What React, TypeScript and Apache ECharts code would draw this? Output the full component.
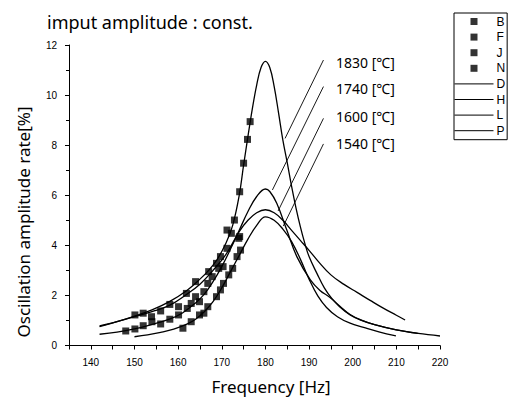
import React, { useEffect, useRef } from 'react';
import * as echarts from 'echarts';

// Measured points (frequency [Hz], oscillation amplitude rate [%])
const pointsB: [number, number][] = [
  [150.1, 1.22], [152.0, 1.29], [156.0, 1.38], [158.1, 1.64], [161.9, 2.08], [164.0, 2.55],
  [167.0, 2.95], [168.8, 3.28], [169.7, 3.55], [171.2, 3.88], [172.9, 5.01], [174.1, 6.14],
  [175.0, 7.28], [175.9, 8.23], [176.5, 8.94],
];
const pointsF: [number, number][] = [
  [148.0, 0.58], [150.1, 0.66], [152.0, 0.79], [154.0, 0.95], [156.0, 0.86], [158.1, 1.05],
  [160.1, 1.22], [162.1, 1.48], [164.9, 1.75], [167.8, 2.75], [170.3, 3.15], [172.2, 4.48],
];
const pointsJ: [number, number][] = [
  [153.9, 1.15], [160.1, 1.55], [163.0, 1.68], [164.0, 1.95], [165.9, 2.15], [166.8, 2.48],
  [169.3, 3.08], [171.2, 4.61], [173.9, 4.28], [174.1, 4.35],
];
const pointsN: [number, number][] = [
  [161.1, 0.69], [163.0, 0.95], [164.9, 1.22], [165.9, 1.29], [166.8, 1.55], [168.8, 1.95],
  [169.7, 2.22], [170.4, 2.48], [171.6, 2.82], [172.5, 3.08], [173.5, 3.55], [174.3, 3.81],
];

// Fitted curves
const curveD: [number, number][] = [
  [142, 0.78], [146, 0.95], [150, 1.17], [154, 1.42], [158, 1.75], [162, 2.2], [165, 2.65],
  [167, 3.0], [169, 3.45], [171, 4.1], [172.5, 4.8], [174, 6.0], [175, 7.2], [176, 8.35],
  [177, 9.45], [178, 10.4], [179, 11.1], [180, 11.35], [181, 11.1], [182, 10.35], [183, 9.3],
  [184, 8.2], [185, 7.3], [186, 6.35], [187, 5.5], [188, 4.75], [189, 4.1], [190, 3.55],
  [191.8, 2.88], [193.5, 2.3], [195.2, 1.88], [197, 1.55], [199.4, 1.22], [202, 1.0],
  [205, 0.83], [210, 0.62], [215, 0.48], [220, 0.38],
];
const curveH: [number, number][] = [
  [142, 0.45], [146, 0.53], [150, 0.66], [154, 0.84], [158, 1.05], [161, 1.3], [164, 1.7],
  [166, 2.05], [168, 2.55], [170, 3.15], [172, 3.85], [174, 4.6], [176, 5.35], [178, 5.95],
  [180, 6.25], [181, 6.15], [182.6, 5.68], [184.9, 4.61], [187.2, 3.55], [190.3, 2.62],
  [192.5, 2.2], [194.8, 1.92], [197, 1.58], [199.4, 1.24], [202, 1.01], [205, 0.83],
  [210, 0.62], [215, 0.48],
];
const curveL: [number, number][] = [
  [142, 0.75], [146, 0.95], [150, 1.15], [154, 1.35], [158, 1.6], [162, 2.05], [165, 2.45],
  [168, 3.0], [171, 3.65], [174, 4.55], [176, 5.0], [178, 5.3], [180, 5.42], [182, 5.3],
  [184, 5.0], [186, 4.6], [188, 4.2], [190, 3.8], [192, 3.38], [195, 2.82], [198, 2.44],
  [201, 2.12], [204, 1.8], [207, 1.49], [210, 1.21], [212, 1.02],
];
const curveP: [number, number][] = [
  [150, 0.35], [153, 0.42], [156, 0.52], [159, 0.65], [162, 0.85], [164, 1.05], [166, 1.35],
  [168, 1.75], [170, 2.3], [172, 2.95], [174, 3.6], [176, 4.25], [178, 4.8], [180, 5.14],
  [182, 5.0], [184, 4.65], [186, 4.15], [188, 3.45], [190, 2.65], [192, 1.98], [194, 1.52],
  [196.5, 1.15], [199.4, 0.89], [202.5, 0.72], [206, 0.54], [209.9, 0.38],
];

// Temperature annotations and their leader lines (data coordinates)
const tempLabels = ['1830 [℃]', '1740 [℃]', '1600 [℃]', '1540 [℃]'];
const leaderLines: [[number, number], [number, number]][] = [
  [[193.3, 11.4], [184.5, 8.27]],
  [[193.3, 10.34], [181.6, 6.21]],
  [[193.3, 9.07], [182.9, 5.37]],
  [[193.3, 8.05], [184.1, 4.77]],
];

const legendPointNames = ['B', 'F', 'J', 'N'];
const legendCurveNames = ['D', 'H', 'L', 'P'];

const titleText = 'imput amplitude : const.';
const xTitle = 'Frequency [Hz]';
const yTitle = 'Oscillation amplitude rate[%]';

const txt = (text: string, x: number, y: number, font: string, align = 'left', extra: any = {}) => ({
  type: 'text',
  x,
  y,
  ...extra,
  style: { text, fill: '#000', font, align, verticalAlign: 'middle', textAlign: align, textVerticalAlign: 'middle' },
});

const squareIcon = 'path://M0,0L7,0L7,7L0,7Z';

export default function App() {
  const ref = useRef<HTMLDivElement>(null);
  useEffect(() => {
    if (!ref.current) return;
    const chart = echarts.init(ref.current, null, { renderer: 'svg' });
    const scatterSets = [pointsB, pointsF, pointsJ, pointsN];
    const curveSets = [curveD, curveH, curveL, curveP];
    const series: any[] = [];
    scatterSets.forEach((p, i) => {
      series.push({
        name: legendPointNames[i],
        type: 'scatter',
        data: p,
        symbol: 'rect',
        symbolSize: 7,
        itemStyle: { color: '#000' },
        z: 3,
      });
    });
    curveSets.forEach((c, i) => {
      series.push({
        name: legendCurveNames[i],
        type: 'line',
        data: c,
        smooth: 0.4,
        symbol: 'none',
        showSymbol: false,
        lineStyle: { color: '#000', width: 1.3 },
        itemStyle: { color: '#000' },
        z: 2,
        markLine: i === 0 ? {
          silent: true,
          symbol: ['none', 'none'],
          label: { show: false },
          lineStyle: { color: '#000', width: 0.9, type: 'solid' },
          emphasis: { disabled: true },
          data: leaderLines.map((l) => [{ coord: l[0] }, { coord: l[1] }]),
        } : undefined,
      });
    });

    const tempY = [62.7, 88.3, 116.7, 143.3];
    const tempFont = '14px "Noto Sans", "Noto Sans CJK JP", sans-serif';
    const tempTexts = tempLabels.map((t, i) => txt(t, 336, tempY[i], tempFont, 'left'));

    chart.setOption({
      animation: false,
      backgroundColor: '#fff',
      grid: { left: 69, right: 69, top: 45, bottom: 51.5, containLabel: false },
      legend: {
        show: true,
        orient: 'vertical',
        left: 454,
        top: 13,
        selectedMode: false,
        padding: [2.5, 2, 3, 0],
        itemGap: 3.6,
        itemWidth: 39,
        itemHeight: 7,
        symbolKeepAspect: true,
        borderColor: '#000',
        borderWidth: 1,
        backgroundColor: '#fff',
        lineStyle: { width: 1, color: '#000' },
        textStyle: { color: '#000', fontSize: 12, fontFamily: '"Liberation Sans", Arial, sans-serif', padding: [0, 0, 0, -2] },
        data: [
          ...legendPointNames.map((n) => ({ name: n, icon: squareIcon })),
          ...legendCurveNames.map((n) => ({ name: n, itemStyle: { opacity: 0 } })),
        ],
      },
      xAxis: {
        type: 'value',
        min: 135,
        max: 220,
        interval: 5,
        axisLine: { show: true, onZero: false, lineStyle: { color: '#000', width: 1 } },
        axisTick: { show: true, length: 4, lineStyle: { color: '#000' } },
        axisLabel: {
          margin: 12,
          color: '#000',
          fontSize: 10,
          fontFamily: '"Liberation Sans", Arial, sans-serif',
          formatter: (v: number) => (v % 10 === 0 ? String(v) : ''),
        },
        splitLine: { show: false },
      },
      yAxis: {
        type: 'value',
        min: 0,
        max: 12,
        interval: 2,
        axisLine: { show: true, onZero: false, lineStyle: { color: '#000', width: 1 } },
        axisTick: { show: true, length: 4, lineStyle: { color: '#000' } },
        minorTick: { show: true, splitNumber: 2, length: 3, lineStyle: { color: '#000' } },
        axisLabel: {
          margin: 12,
          color: '#000',
          fontSize: 10,
          fontFamily: '"Liberation Sans", Arial, sans-serif',
        },
        splitLine: { show: false },
      },
      graphic: [
        txt(titleText, 47, 22, '18px "Noto Sans", sans-serif', 'left'),
        txt(xTitle, 271, 386, '17px "Noto Sans", sans-serif', 'center'),
        txt(yTitle, 23, 222, '17px "Noto Sans", sans-serif', 'center', { rotation: Math.PI / 2 }),
        ...tempTexts,
      ],
      series,
    });
    return () => chart.dispose();
  }, []);
  return <div ref={ref} style={{ width: 509, height: 397, position: 'absolute', left: 0, top: 0 }} />;
}
